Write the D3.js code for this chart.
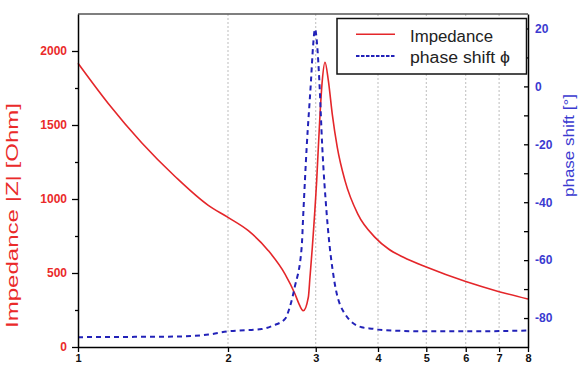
<!DOCTYPE html>
<html>
<head>
<meta charset="utf-8">
<script src="https://cdn.jsdelivr.net/npm/d3@7"></script>
<style>
  html, body { margin: 0; padding: 0; background: #fff; }
  svg { display: block; font-family: "Liberation Sans", Arial, sans-serif; }
</style>
</head>
<body>
<svg id="chart" width="579" height="365"></svg>
<script>
// ---- data ----
const impFreq   = [1.00, 1.15, 1.342, 1.566, 1.826, 2.00, 2.197, 2.41, 2.603, 2.726, 2.768, 2.832, 2.899, 2.921, 2.953, 3.013, 3.06, 3.092, 3.131, 3.18, 3.238, 3.314, 3.434, 3.642, 3.945, 4.2, 4.5, 5.0, 6.0, 7.0, 8.0];
const impValues = [1917, 1645, 1380, 1152, 957, 876, 786, 651, 493, 358, 302, 245, 336, 471, 674, 1124, 1574, 1800, 1924, 1800, 1574, 1349, 1124, 899, 741, 662, 606, 540, 442, 374, 324];

const phaseFreq   = [1.00, 1.3, 1.566, 1.826, 2.00, 2.337, 2.462, 2.603, 2.66, 2.722, 2.811, 2.832, 2.877, 2.935, 2.962, 2.99, 3.022, 3.05, 3.092, 3.156, 3.268, 3.434, 3.71, 3.945, 4.0, 5.0, 6.0, 7.0, 8.0];
const phaseValues = [-86.6, -86.5, -86.4, -85.7, -84.6, -83.8, -82.6, -80.3, -76.3, -69.4, -55.6, -44.1, -21.0, 2.0, 13.5, 19.8, 13.5, 2.0, -21.0, -44.1, -67.1, -78.6, -83.2, -83.8, -84.0, -84.6, -84.6, -84.5, -84.3];

const xTicks = [1, 2, 3, 4, 5, 6, 7, 8];
const gridTicks = [2, 3, 4, 5, 6, 7];
const leftTicks = [0, 500, 1000, 1500, 2000];
const leftMinor = [250, 750, 1250, 1750];
const rightTicks = [-80, -60, -40, -20, 0, 20];
const rightMinor = [-70, -50, -30, -10, 10];
const leftLabel = "Impedance |Z| [Ohm]";
const rightLabel = "phase shift [°]";
const legendLabels = ["Impedance", "phase shift \u03D5"];

// ---- styles ----
const RED = "#e4262a", BLUE = "#2222b8";
const RED_TXT = "#ea2a2a", BLUE_TXT = "#3a3ad0";

const svg = d3.select("#chart");
const L = 78, R = 528, T = 14, B = 347;

const x = d3.scaleLog().domain([1, 8]).range([L, R]);
const yL = d3.scaleLinear().domain([0, 2250]).range([B, T]);
const yR = d3.scaleLinear().domain([-90, 25]).range([B, T]);
const plain = d => String(d);

// gridlines
svg.append("g").selectAll("line").data(gridTicks).join("line")
  .attr("x1", d => x(d)).attr("x2", d => x(d))
  .attr("y1", T).attr("y2", B)
  .attr("stroke", "#bdbdbd").attr("stroke-width", 1)
  .attr("stroke-dasharray", "2,2");

// top frame
svg.append("line").attr("x1", L).attr("x2", R).attr("y1", T).attr("y2", T)
  .attr("stroke", "#555").attr("stroke-width", 1.5);

// curves
const impLine = d3.line()
  .x((d, i) => x(impFreq[i])).y(d => yL(d))
  .curve(d3.curveMonotoneX);
svg.append("path").datum(impValues)
  .attr("d", impLine).attr("fill", "none")
  .attr("stroke", RED).attr("stroke-width", 1.6);

const phLine = d3.line()
  .x((d, i) => x(phaseFreq[i])).y(d => yR(d))
  .curve(d3.curveMonotoneX);
svg.append("path").datum(phaseValues)
  .attr("d", phLine).attr("fill", "none")
  .attr("stroke", BLUE).attr("stroke-width", 2)
  .attr("stroke-dasharray", "5,4");

// axes
function styleAxis(g, color, size) {
  g.select(".domain").attr("stroke", "#000").attr("stroke-width", 1.5);
  g.selectAll(".tick line").attr("stroke", "#000").attr("stroke-width", 1.3);
  g.selectAll(".tick text").attr("fill", color)
    .attr("font-size", size).attr("font-weight", "bold")
    .attr("font-family", "Liberation Sans, Arial, sans-serif");
}

const gL = svg.append("g").attr("transform", `translate(${L},0)`)
  .call(d3.axisLeft(yL).tickValues(leftTicks).tickSize(6).tickSizeOuter(0).tickPadding(5).tickFormat(plain));
styleAxis(gL, RED_TXT, 12);
const gLm = svg.append("g").attr("transform", `translate(${L},0)`)
  .call(d3.axisLeft(yL).tickValues(leftMinor).tickSize(3).tickSizeOuter(0).tickFormat(""));
gLm.select(".domain").remove();
gLm.selectAll(".tick line").attr("stroke", "#000").attr("stroke-width", 1.3);

const gR = svg.append("g").attr("transform", `translate(${R},0)`)
  .call(d3.axisRight(yR).tickValues(rightTicks).tickSize(-4).tickSizeOuter(0).tickPadding(7).tickFormat(plain));
styleAxis(gR, BLUE_TXT, 12);
const gRm = svg.append("g").attr("transform", `translate(${R},0)`)
  .call(d3.axisRight(yR).tickValues(rightMinor).tickSize(-4).tickSizeOuter(0).tickFormat(""));
gRm.select(".domain").remove();
gRm.selectAll(".tick line").attr("stroke", "#000").attr("stroke-width", 1.3);

const gB = svg.append("g").attr("transform", `translate(0,${B})`)
  .call(d3.axisBottom(x).tickValues(xTicks).tickSize(5).tickSizeOuter(0).tickPadding(2).tickFormat(plain));
styleAxis(gB, "#111", 11);

// axis titles
svg.append("text")
  .attr("transform", "translate(17.5,215.5) rotate(-90)")
  .attr("text-anchor", "middle")
  .attr("font-size", 16).attr("fill", RED_TXT)
  .attr("textLength", 225).attr("lengthAdjust", "spacingAndGlyphs")
  .text(leftLabel);

svg.append("text")
  .attr("transform", "translate(573.5,145.5) rotate(-90)")
  .attr("text-anchor", "middle")
  .attr("font-size", 15).attr("fill", BLUE_TXT)
  .attr("textLength", 103).attr("lengthAdjust", "spacingAndGlyphs")
  .text(rightLabel);

// legend
const lg = svg.append("g");
lg.append("rect").attr("x", 337).attr("y", 18.5).attr("width", 189.5).attr("height", 55.5)
  .attr("fill", "#fff").attr("stroke", "#111").attr("stroke-width", 1.5);
lg.append("line").attr("x1", 356).attr("x2", 395).attr("y1", 34.3).attr("y2", 34.3)
  .attr("stroke", RED).attr("stroke-width", 1.6);
lg.append("line").attr("x1", 356).attr("x2", 395).attr("y1", 56).attr("y2", 56)
  .attr("stroke", BLUE).attr("stroke-width", 2).attr("stroke-dasharray", "3.5,1.5");
lg.append("text").attr("x", 410).attr("y", 41.5).attr("font-size", 16).attr("fill", "#222")
  .attr("textLength", 83).attr("lengthAdjust", "spacingAndGlyphs")
  .text(legendLabels[0]);
lg.append("text").attr("x", 410).attr("y", 63).attr("font-size", 16).attr("fill", "#222")
  .attr("textLength", 100).attr("lengthAdjust", "spacingAndGlyphs")
  .text(legendLabels[1]);
</script>
</body>
</html>
